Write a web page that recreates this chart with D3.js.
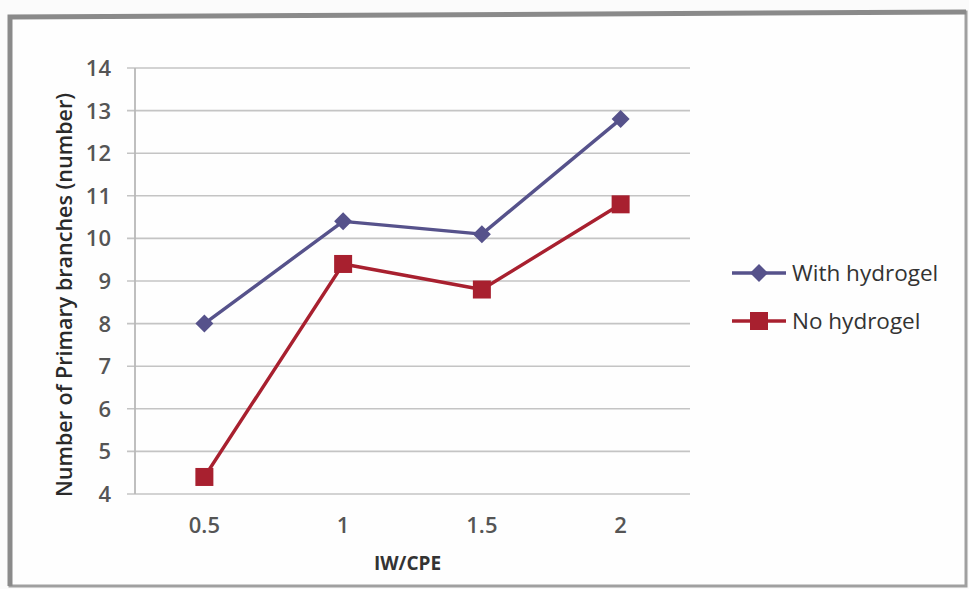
<!DOCTYPE html>
<html>
<head>
<meta charset="utf-8">
<script src="https://cdn.jsdelivr.net/npm/d3@7"></script>
<style>
  html, body { margin: 0; padding: 0; background: #ffffff; }
  svg { display: block; }
  text { font-family: "Open Sans", "Noto Sans", sans-serif; }
</style>
</head>
<body>
<svg id="chart" width="969" height="589"></svg>
<script>
// IW/CPE ratios on the x axis
const categories = ["0.5", "1", "1.5", "2"];
// Number of primary branches per treatment
const withHydrogel = [8.0, 10.4, 10.1, 12.8];
const noHydrogel = [4.4, 9.4, 8.8, 10.8];
const yTicks = [4, 5, 6, 7, 8, 9, 10, 11, 12, 13, 14];

const series = [
  { name: "With hydrogel", values: withHydrogel, color: "#56528b", marker: "diamond" },
  { name: "No hydrogel", values: noHydrogel, color: "#a8202f", marker: "square" }
];

const svg = d3.select("#chart");
const W = 969, H = 589;

// page background and frame
svg.append("rect").attr("width", W).attr("height", H).attr("fill", "#fbfbfb");
svg.append("path")
  .attr("d", "M10,586 L10,17 L966,12 L966,586 Z")
  .attr("fill", "#fefefe")
  .attr("stroke", "#a0a0a0")
  .attr("stroke-width", 3);
// darker top and left edges
svg.append("path")
  .attr("d", "M10,586 L10,17 L966,12")
  .attr("fill", "none")
  .attr("stroke", "#8a8a8a")
  .attr("stroke-width", 5);

const plot = { left: 135, right: 690, top: 68, bottom: 494 };

const x = d3.scaleBand().domain(categories).range([plot.left, plot.right]);
const y = d3.scaleLinear().domain([4, 14]).range([plot.bottom, plot.top]);

// horizontal gridlines
svg.append("g")
  .selectAll("line")
  .data(yTicks)
  .join("line")
  .attr("x1", plot.left - 8)
  .attr("x2", plot.right)
  .attr("y1", d => y(d))
  .attr("y2", d => y(d))
  .attr("stroke", "#c4c4c4")
  .attr("stroke-width", 1.6);

// y axis line
svg.append("line")
  .attr("x1", plot.left).attr("x2", plot.left)
  .attr("y1", plot.top).attr("y2", plot.bottom)
  .attr("stroke", "#b8b8b8").attr("stroke-width", 1.8);

// y tick labels
svg.append("g")
  .selectAll("text")
  .data(yTicks)
  .join("text")
  .attr("x", plot.left - 24)
  .attr("y", d => y(d))
  .attr("dy", "0.36em")
  .attr("text-anchor", "end")
  .attr("font-size", 22)
  .attr("font-weight", 600)
  .attr("fill", "#555")
  .text(d => d);

// x tick labels
svg.append("g")
  .selectAll("text")
  .data(categories)
  .join("text")
  .attr("x", d => x(d) + x.bandwidth() / 2)
  .attr("y", 533)
  .attr("text-anchor", "middle")
  .attr("font-size", 22)
  .attr("font-weight", 600)
  .attr("fill", "#555")
  .text(d => d);

// axis titles
svg.append("text")
  .attr("x", (plot.left + plot.right) / 2 - 5)
  .attr("y", 570)
  .attr("text-anchor", "middle")
  .attr("font-size", 19)
  .attr("font-weight", 700)
  .attr("fill", "#333")
  .text("IW/CPE");

svg.append("text")
  .attr("transform", `translate(72, ${(plot.top + plot.bottom) / 2 + 14}) rotate(-90)`)
  .attr("text-anchor", "middle")
  .attr("font-size", 21.5)
  .attr("font-weight", 600)
  .attr("fill", "#2a2a2a")
  .text("Number of Primary branches (number)");

const cx = c => x(c) + x.bandwidth() / 2;
const line = d3.line().x((d, i) => cx(categories[i])).y(d => y(d));

function drawMarker(g, kind, px, py, color) {
  if (kind === "diamond") {
    const s = 9;
    g.append("path")
      .attr("d", `M${px},${py - s} L${px + s},${py} L${px},${py + s} L${px - s},${py} Z`)
      .attr("fill", color);
  } else {
    const s = 9;
    g.append("rect")
      .attr("x", px - s).attr("y", py - s)
      .attr("width", 2 * s).attr("height", 2 * s)
      .attr("fill", color);
  }
}

series.forEach(s => {
  svg.append("path")
    .datum(s.values)
    .attr("d", line)
    .attr("fill", "none")
    .attr("stroke", s.color)
    .attr("stroke-width", 3.4)
    .attr("stroke-linejoin", "round");
  const g = svg.append("g");
  s.values.forEach((v, i) => drawMarker(g, s.marker, cx(categories[i]), y(v), s.color));
});

// legend
const legend = svg.append("g");
series.forEach((s, i) => {
  const ly = 273 + i * 48;
  legend.append("line")
    .attr("x1", 732).attr("x2", 786)
    .attr("y1", ly).attr("y2", ly)
    .attr("stroke", s.color).attr("stroke-width", 3.4);
  drawMarker(legend, s.marker, 759, ly, s.color);
  legend.append("text")
    .attr("x", 792)
    .attr("y", ly)
    .attr("dy", "0.36em")
    .attr("font-size", 22.5)
    .attr("fill", "#333")
    .text(s.name);
});
</script>
</body>
</html>
